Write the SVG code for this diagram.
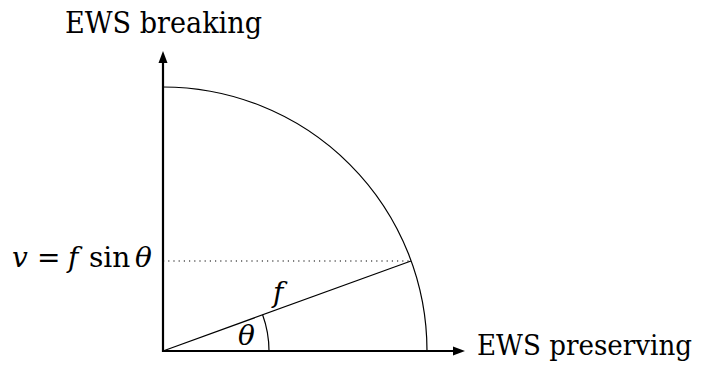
<svg xmlns="http://www.w3.org/2000/svg" width="701" height="365" viewBox="0 0 701 365">
<style>
.lbl{font-size:29px}
.m{font-size:28px}
.i{font-style:italic}
.thin{fill:none;stroke:#000;stroke-width:1.2}
.axis{fill:none;stroke:#000;stroke-width:2.2}
</style>
<defs>
<marker id="arr" viewBox="0 0 12 10" refX="1" refY="5" markerWidth="12" markerHeight="10" orient="auto" markerUnits="userSpaceOnUse">
<path d="M0,0.5 L12,5 L0,9.5 Z" fill="#000"/>
</marker>
</defs>
<g id="connectors">
<line class="axis" x1="163" y1="352" x2="163" y2="62" marker-end="url(#arr)"/>
<line class="axis" x1="162" y1="351" x2="454" y2="351" marker-end="url(#arr)"/>
<path class="thin" d="M163,87 A264,264 0 0 1 427,351"/>
<line class="thin" x1="163" y1="351" x2="411" y2="261"/>
<line class="thin" x1="163" y1="261" x2="411" y2="261" stroke-dasharray="1.2 4"/>
<path class="thin" d="M269,351 A106,106 0 0 0 262.6,314.7"/>
</g>
<g font-family="'DejaVu Serif', serif" fill="#000">
<g id="y-label"><text class="lbl" x="65" y="33" textLength="197" lengthAdjust="spacingAndGlyphs">EWS breaking</text></g>
<g id="x-label"><text x="477" y="355" font-size="27" textLength="215" lengthAdjust="spacingAndGlyphs">EWS preserving</text></g>
<g id="v-label"><text class="m" y="267"><tspan class="i" x="12">v</tspan><tspan x="37">=</tspan><tspan class="i" x="68">f</tspan><tspan x="89">sin</tspan><tspan class="i" x="135">θ</tspan></text></g>
<g id="f-label"><text class="m i" x="273" y="302">f</text></g>
<g id="theta-label"><text class="m i" x="238" y="345">θ</text></g>
</g>
</svg>
